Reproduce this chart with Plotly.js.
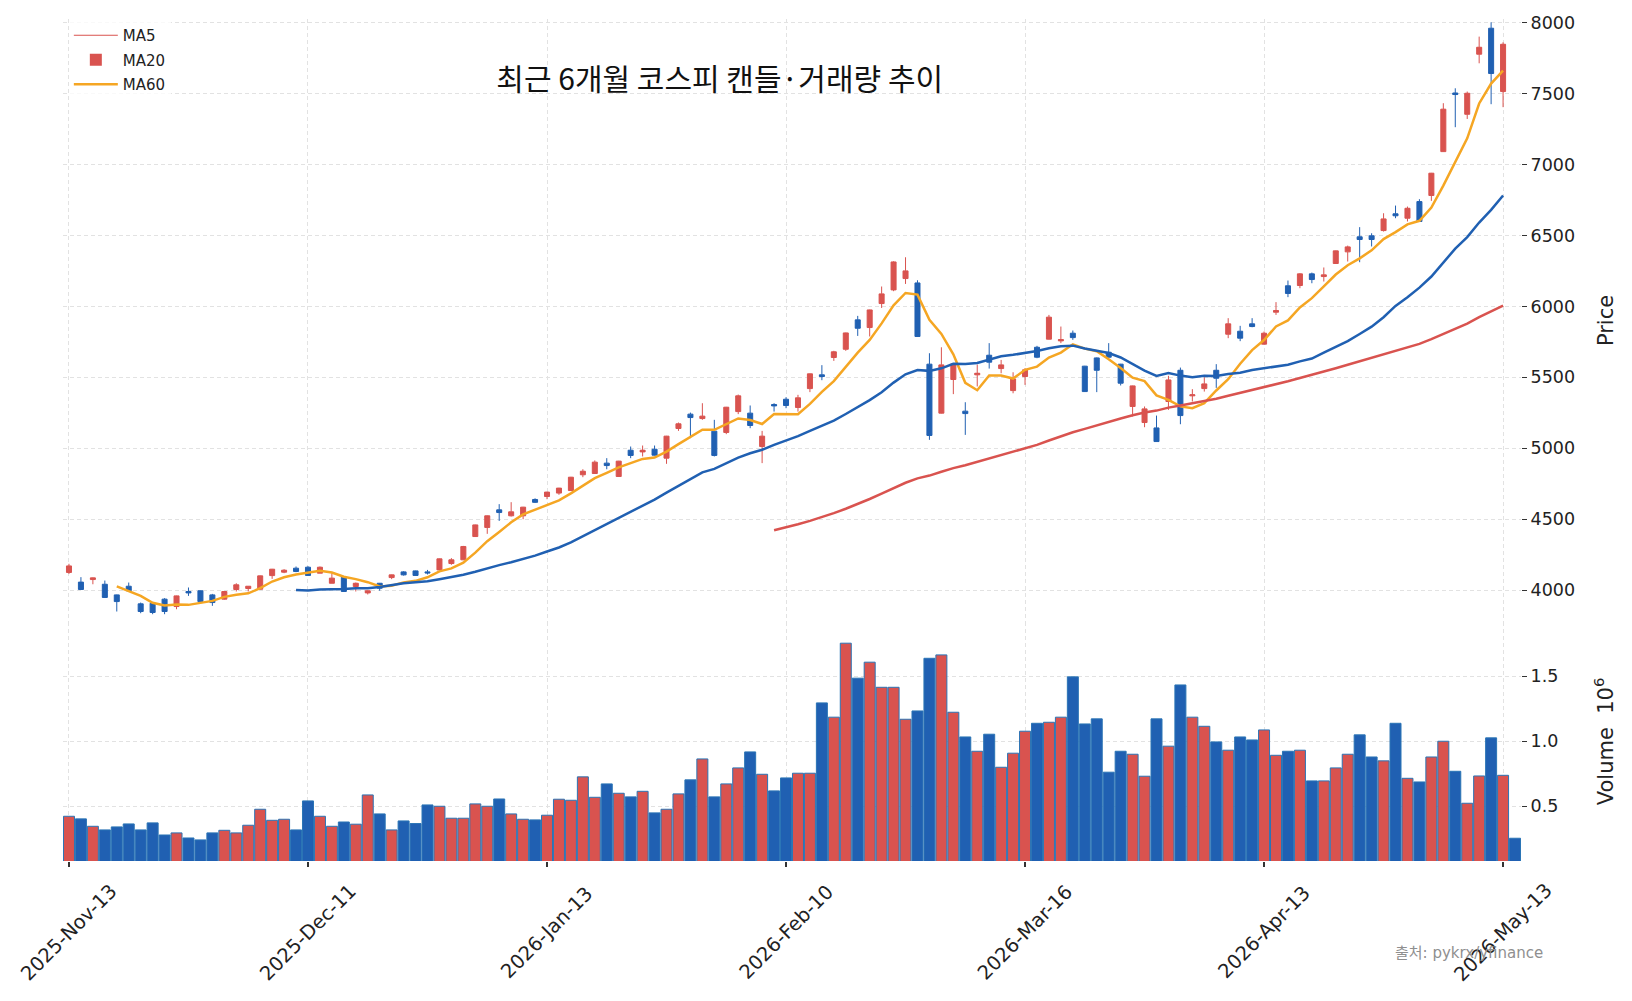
<!DOCTYPE html>
<html>
<head>
<meta charset="utf-8">
<script src="https://cdn.plot.ly/plotly-3.0.1.min.js"></script>
<style>
  html, body { margin: 0; padding: 0; background: #fff; }
  #chart { width: 1632px; height: 1001px; }
</style>
</head>
<body>
<div id="chart"></div>
<script>
// daily KOSPI candles, 2025-11-13 .. 2026-05-13 (one row per trading day)
const opens = [4126,4058,4076,4043,3968,4029,3905,3909,3938,3886,3992,3997,3968,3938,4006,4013,4008,4104,4128,4156,
  4163,4121,4050,4093,4027,3982,4050,4090,4130,4137,4130,4144,4189,4215,4379,4443,4567,4525,4525,4640,
  4661,4685,4703,4814,4823,4896,4802,4987,4975,4994,4931,5140,5241,5210,5121,5112,5259,5248,5013,5309,
  5346,5288,5421,5518,5640,5698,5905,5851,6020,6116,6196,6165,5593,5248,5485,5262,5518,5656,5562,5407,
  5506,5712,5769,5757,5811,5579,5637,5677,5593,5295,5182,5144,5330,5550,5370,5421,5550,5804,5825,5877,
  5734,5959,6145,6147,6229,6210,6302,6384,6490,6497,6534,6652,6621,6738,6781,7090,7503,7353,7776,7959,7513];
const highs = [4187,4093,4090,4069,3970,4055,3914,3912,3945,3963,4020,3999,3975,3995,4050,4030,4104,4151,4149,4168,
  4170,4168,4121,4095,4055,3999,4052,4111,4135,4139,4144,4224,4227,4313,4463,4527,4607,4621,4588,4648,
  4694,4722,4799,4853,4915,4931,4912,5013,5020,5020,5088,5182,5252,5318,5201,5292,5379,5302,5123,5318,
  5360,5377,5527,5586,5687,5815,5933,5977,6140,6318,6346,6184,5670,5712,5600,5325,5590,5741,5623,5536,
  5565,5722,5940,5858,5830,5581,5640,5741,5595,5442,5295,5231,5511,5569,5417,5501,5593,5917,5863,5917,
  5823,6030,6182,6234,6238,6274,6393,6428,6558,6515,6656,6710,6703,6755,6940,7431,7536,7513,7900,8001,7860];
const lows = [4116,4004,4043,3946,3851,3995,3839,3832,3832,3867,3961,3919,3891,3935,3992,3992,4005,4081,4121,4128,
  4104,4121,4050,3990,3992,3971,3997,4079,4104,4103,4112,4142,4180,4213,4377,4398,4489,4520,4501,4615,
  4642,4673,4701,4797,4821,4853,4800,4931,4943,4950,4891,5123,5072,5201,4943,5100,5241,5142,4896,5259,
  5283,5259,5396,5480,5616,5687,5792,5788,5989,6107,6158,5786,5060,5246,5382,5095,5436,5562,5529,5388,
  5447,5635,5767,5741,5764,5398,5396,5640,5443,5224,5149,5046,5271,5170,5330,5400,5426,5776,5755,5853,
  5731,5940,6065,6128,6163,6175,6300,6316,6311,6422,6527,6621,6598,6596,6743,7088,7262,7320,7712,7424,7403];
const closes = [4172,4006,4088,3950,3921,3997,3851,3844,3851,3961,3982,3921,3914,3992,4039,4029,4102,4149,4142,4133,
  4105,4163,4086,3992,4050,3997,4015,4109,4109,4105,4123,4222,4215,4309,4461,4525,4548,4553,4586,4620,
  4692,4720,4797,4839,4903,4879,4910,4950,4987,4952,5086,5173,5217,5227,4950,5290,5370,5161,5086,5299,
  5302,5356,5525,5506,5680,5813,5846,5975,6088,6313,6250,5788,5091,5588,5595,5245,5529,5607,5588,5489,
  5553,5642,5924,5766,5780,5400,5550,5642,5459,5440,5278,5048,5482,5231,5377,5454,5494,5877,5776,5858,
  5811,5971,6091,6229,6189,6222,6391,6419,6471,6471,6616,6638,6691,6598,6938,7389,7492,7501,7825,7640,7846];
// volume in millions of shares (the last day has volume but no candle)
const volumes = [0.423,0.403,0.346,0.318,0.341,0.364,0.318,0.372,0.279,0.295,0.256,0.241,0.295,0.315,0.295,0.354,0.477,0.392,0.400,0.318,
  0.541,0.423,0.346,0.379,0.362,0.587,0.441,0.318,0.387,0.367,0.510,0.500,0.408,0.408,0.518,0.500,0.556,0.441,0.400,0.395,
  0.431,0.554,0.546,0.726,0.569,0.672,0.600,0.572,0.615,0.449,0.477,0.595,0.703,0.864,0.572,0.672,0.795,0.918,0.746,0.618,
  0.718,0.754,0.754,1.295,1.185,1.754,1.485,1.608,1.415,1.415,1.169,1.233,1.638,1.664,1.223,1.033,0.923,1.054,0.800,0.908,
  1.077,1.138,1.146,1.185,1.495,1.133,1.172,0.762,0.923,0.900,0.731,1.172,0.962,1.433,1.185,1.115,0.995,0.931,1.033,1.010,
  1.087,0.892,0.923,0.931,0.695,0.695,0.795,0.900,1.049,0.879,0.849,1.138,0.715,0.687,0.879,1.000,0.769,0.523,0.733,1.026,
  0.738,0.254];
const tickIdx = [0, 20, 40, 60, 80, 100, 120];
const tickLabels = ['2025-Nov-13','2025-Dec-11','2026-Jan-13','2026-Feb-10','2026-Mar-16','2026-Apr-13','2026-May-13'];

const UP = '#d9534f', DOWN = '#2060b2', ORANGE = '#f5a623';
const FONT = 'DejaVu Sans, Noto Sans CJK KR, sans-serif';

const idx = volumes.map((v, i) => i);
const cIdx = closes.map((v, i) => i);

function movingAvg(arr, n) {
  return arr.map((v, i) => {
    if (i < n - 1) return null;
    let s = 0;
    for (let k = i - n + 1; k <= i; k++) s += arr[k];
    return s / n;
  });
}

const volColors = volumes.map((v, i) =>
  (i < closes.length && closes[i] >= opens[i]) ? UP : DOWN);

const candles = {
  type: 'candlestick', x: cIdx, open: opens, high: highs, low: lows, close: closes,
  xaxis: 'x', yaxis: 'y', showlegend: false, hoverinfo: 'skip',
  increasing: {line: {color: UP, width: 1}, fillcolor: UP},
  decreasing: {line: {color: DOWN, width: 1}, fillcolor: DOWN},
  whiskerwidth: 0
};
const ma5 = {type: 'scatter', mode: 'lines', x: cIdx, y: movingAvg(closes, 5),
  line: {color: ORANGE, width: 2.5}, showlegend: false, xaxis: 'x', yaxis: 'y'};
const ma20 = {type: 'scatter', mode: 'lines', x: cIdx, y: movingAvg(closes, 20),
  line: {color: DOWN, width: 2.5}, showlegend: false, xaxis: 'x', yaxis: 'y'};
const ma60 = {type: 'scatter', mode: 'lines', x: cIdx, y: movingAvg(closes, 60),
  line: {color: UP, width: 2.5}, showlegend: false, xaxis: 'x', yaxis: 'y'};
const vol = {type: 'bar', x: idx, y: volumes, xaxis: 'x', yaxis: 'y2', showlegend: false,
  marker: {color: volColors, line: {color: '#2a74b5', width: 1}}, hoverinfo: 'skip'};

// legend entries as they appear in the original picture
const legA = {type: 'scatter', mode: 'lines', x: [null], y: [null], name: 'MA5', legendgroup: 'a',
  line: {color: UP, width: 1}, xaxis: 'x', yaxis: 'y'};
const legB = {type: 'bar', x: [null], y: [null], name: 'MA20', legendgroup: 'b',
  marker: {color: UP}, xaxis: 'x', yaxis: 'y'};
const legC = {type: 'scatter', mode: 'lines', x: [null], y: [null], name: 'MA60', legendgroup: 'c',
  line: {color: ORANGE, width: 2.5}, xaxis: 'x', yaxis: 'y'};

const grid = {showgrid: true, gridcolor: '#e2e2e2', griddash: '4px,3px', gridwidth: 1, zeroline: false, showline: false};

const annots = tickIdx.map((t, k) => ({
  x: t, xref: 'x', y: -0.085, yref: 'paper', text: tickLabels[k], showarrow: false,
  textangle: -45, xanchor: 'center', yanchor: 'middle', font: {family: FONT, size: 19.5, color: '#222'}
}));
annots.push({
  x: 1.0165, xref: 'paper', y: -0.109, yref: 'paper', text: '출처: pykrx/yfinance', showarrow: false,
  xanchor: 'right', yanchor: 'middle', font: {family: FONT, size: 15, color: '#8f8f8f'}
});

const layout = {
  width: 1632, height: 1001,
  margin: {l: 63, r: 111, t: 19, b: 140},
  paper_bgcolor: '#ffffff', plot_bgcolor: '#ffffff',
  font: {family: FONT, color: '#222'},
  title: {text: '최근 6개월 코스피 캔들·거래량 추이', x: 0.441, xanchor: 'center', y: 0.921, yanchor: 'middle',
    font: {family: 'Noto Sans CJK KR, sans-serif', size: 30, color: '#111'}},
  showlegend: true,
  legend: {x: 0.004, y: 1.0, xanchor: 'left', yanchor: 'top', bgcolor: 'rgba(255,255,255,0.8)',
    font: {family: FONT, size: 15, color: '#222'}, tracegroupgap: 2, itemwidth: 44},
  bargap: 0.08, boxgap: 0.4,
  xaxis: Object.assign({}, grid, {
    range: [-0.5, 121.5], anchor: 'y2', tickvals: tickIdx, showticklabels: false,
    ticks: 'outside', ticklen: 5, tickwidth: 1.5, tickcolor: '#333',
    rangeslider: {visible: false}
  }),
  yaxis: Object.assign({}, grid, {
    domain: [0.284, 1], range: [3778, 8024], side: 'right', anchor: 'x',
    tick0: 0, dtick: 500, ticks: 'outside', ticklen: 5, tickcolor: '#333',
    tickfont: {family: FONT, size: 17.5, color: '#222'},
    title: {text: 'Price', font: {family: FONT, size: 21, color: '#222'}, standoff: 24},
    automargin: false
  }),
  yaxis2: Object.assign({}, grid, {
    domain: [0, 0.284], range: [0.079, 1.918], side: 'right', anchor: 'x',
    tickvals: [0.5, 1.0, 1.5], tickformat: '.1f', ticks: 'outside', ticklen: 5, tickcolor: '#333',
    tickfont: {family: FONT, size: 17.5, color: '#222'},
    title: {text: 'Volume  10<sup>6</sup>', font: {family: FONT, size: 21, color: '#222'}, standoff: 40},
    automargin: false
  }),
  annotations: annots
};

Plotly.newPlot('chart', [candles, ma5, ma20, ma60, vol, legA, legB, legC], layout,
  {displayModeBar: false, responsive: false});
</script>
</body>
</html>
